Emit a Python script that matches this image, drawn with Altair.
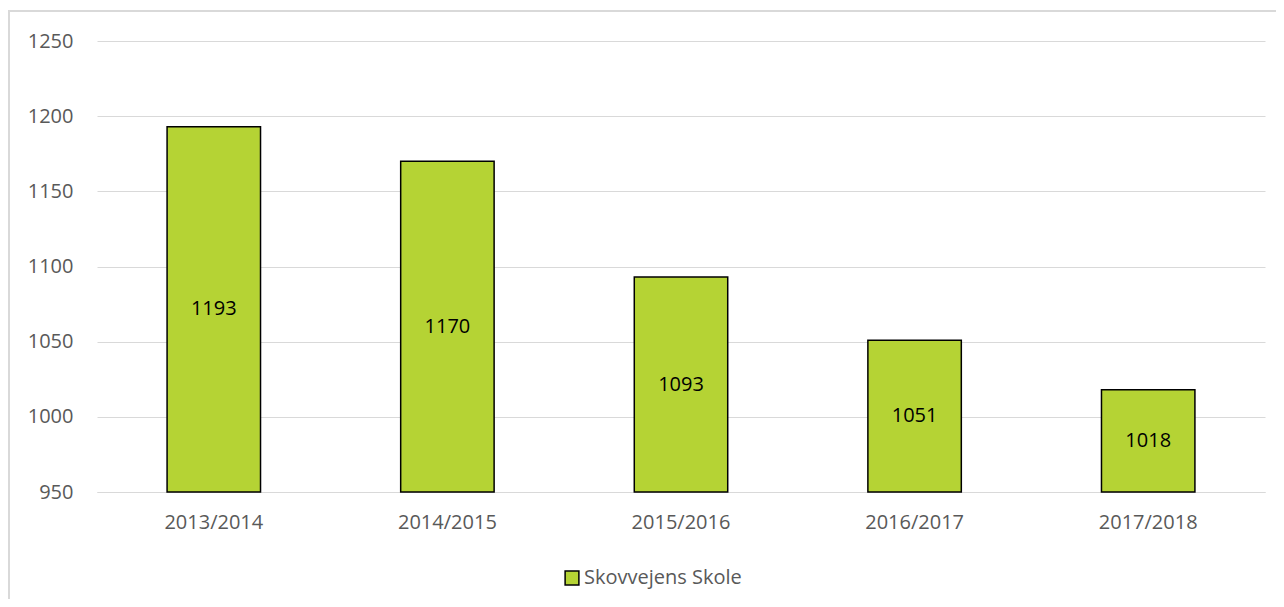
import altair as alt
import pandas as pd

years = ["2013/2014", "2014/2015", "2015/2016", "2016/2017", "2017/2018"]
values = [1193, 1170, 1093, 1051, 1018]
series = "Skovvejens Skole"

df = pd.DataFrame({"year": years, "value": values, "series": series})

FONT = "Open Sans"
GRAY = "#595959"
FS = 20

x = alt.X("year:N", sort=years, title=None,
          scale=alt.Scale(paddingInner=0.6, paddingOuter=0.3),
          axis=alt.Axis(labelAngle=0, labelPadding=20, ticks=False, domain=True,
                        domainColor="#d9d9d9", labelColor=GRAY, labelFontSize=FS,
                        labelFont=FONT, grid=False))

bars = alt.Chart(df).mark_bar(stroke="black", strokeWidth=1.5).encode(
    x=x,
    y=alt.Y("value:Q", title=None,
            scale=alt.Scale(domain=[950, 1250], nice=False, zero=False),
            axis=alt.Axis(values=[950, 1000, 1050, 1100, 1150, 1200, 1250],
                          format="d", ticks=False, domain=False, labelPadding=24,
                          labelColor=GRAY, labelFontSize=FS, labelFont=FONT,
                          gridColor="#d9d9d9", gridWidth=1)),
    y2=alt.datum(950),
    color=alt.Color("series:N", title=None,
                    scale=alt.Scale(range=["#b5d334"]),
                    legend=alt.Legend(orient="none", legendX=465, legendY=527,
                                      symbolType="square", symbolSize=190,
                                      symbolStrokeColor="black", symbolStrokeWidth=1.5,
                                      labelColor=GRAY, labelFontSize=FS, labelFont=FONT,
                                      labelOffset=2)),
)

labels = alt.Chart(df).transform_calculate(
    mid="(datum.value + 950) / 2"
).mark_text(font=FONT, fontSize=FS, color="black").encode(
    x=alt.X("year:N", sort=years),
    y=alt.Y("mid:Q"),
    text=alt.Text("value:Q"),
)

frame = alt.Chart(df).mark_rect(fill=None, stroke="#d9d9d9", strokeWidth=1.5).encode(
    x=alt.value(-88), x2=alt.value(1400), y=alt.value(-30), y2=alt.value(800)
)

chart = alt.layer(frame, bars, labels).properties(
    width=1168, height=451,
    autosize=alt.AutoSizeParams(type="none"),
    padding={"left": 89, "top": 33, "right": 11, "bottom": 107},
).configure(font=FONT).configure_view(stroke=None)

chart.save("out.html", embed_options={"renderer": "svg", "actions": False})
